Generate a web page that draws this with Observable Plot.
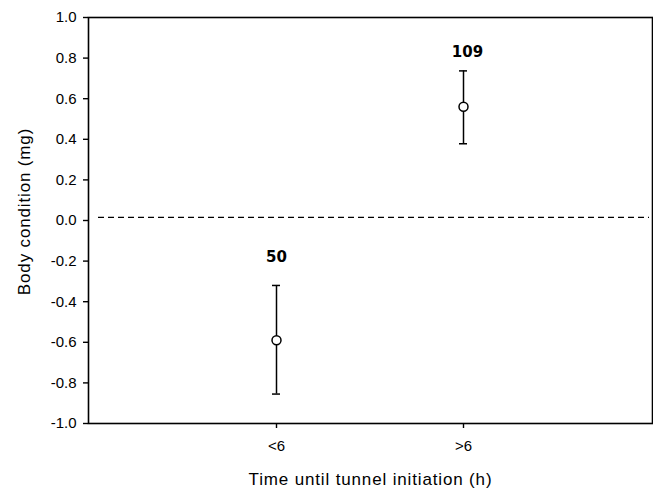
<!DOCTYPE html>
<html>
<head>
<meta charset="utf-8">
<script src="https://cdn.jsdelivr.net/npm/d3@7"></script>
<script src="https://cdn.jsdelivr.net/npm/@observablehq/plot@0.6"></script>
<style>
  html, body { margin: 0; padding: 0; background: #fff; }
  .axis-title { letter-spacing: 0.85px; }
  g[aria-label$="tick label"], g[aria-label$="tick label"] text { font-size: 15px !important; }
</style>
</head>
<body>
<div id="chart"></div>
<script>
const groups = ["<6", ">6"];
const means = [-0.59, 0.56];
const lower = [-0.855, 0.378];
const upper = [-0.32, 0.737];
const sampleSizes = [50, 109];
const refLine = 0.015;
const yTicks = [-1.0, -0.8, -0.6, -0.4, -0.2, 0.0, 0.2, 0.4, 0.6, 0.8, 1.0];
const xTitle = "Time until tunnel initiation (h)";
const yTitle = "Body condition (mg)";

const data = groups.map((g, i) => ({
  group: g, mean: means[i], lo: lower[i], hi: upper[i], n: sampleSizes[i]
}));

const chart = Plot.plot({
  width: 653,
  height: 490,
  marginLeft: 88,
  marginRight: 1,
  marginTop: 17,
  marginBottom: 67,
  style: { fontFamily: "'Liberation Sans', Arial, sans-serif", fontSize: "15px", color: "#000", background: "#fff" },
  x: { type: "band", domain: groups, paddingInner: 0.957, paddingOuter: 0.9787 },
  y: { domain: [-1, 1] },
  marks: [
    Plot.frame({ stroke: "#000", strokeWidth: 1.6 }),
    Plot.axisY({ ticks: yTicks, tickSize: 5, tickPadding: 7, tickFormat: d => d.toFixed(1), label: null, strokeWidth: 1.4 }),
    Plot.axisX({ tickSize: 5, tickPadding: 12, label: null, strokeWidth: 1.4 }),
    Plot.ruleY([refLine], { stroke: "#000", strokeWidth: 1.3, strokeDasharray: "6,4", insetLeft: 10, insetRight: 3 }),
    Plot.ruleX(data, { x: "group", y1: "lo", y2: "hi", stroke: "#000", strokeWidth: 1.5 }),
    Plot.tickY(data, { x: "group", y: "lo", stroke: "#000", strokeWidth: 1.5 }),
    Plot.tickY(data, { x: "group", y: "hi", stroke: "#000", strokeWidth: 1.5 }),
    Plot.dot(data, { x: "group", y: "mean", r: 4.5, fill: "#fff", stroke: "#000", strokeWidth: 1.5 }),
    Plot.text(data.filter(d => d.group === "<6"), { x: "group", y: "hi", text: d => String(d.n), dy: -28, fontFamily: "'DejaVu Sans', Verdana, sans-serif", fontWeight: "bold", fontSize: 15, fill: "#000" }),
    Plot.text(data.filter(d => d.group === ">6"), { x: "group", y: "hi", text: d => String(d.n), dy: -19, dx: 4, fontFamily: "'DejaVu Sans', Verdana, sans-serif", fontWeight: "bold", fontSize: 15, fill: "#000" }),
    Plot.text([xTitle], { text: d => d, frameAnchor: "bottom", textAnchor: "middle", lineAnchor: "middle", dy: 56, fontSize: 17, fill: "#000", className: "axis-title" }),
    Plot.text([yTitle], { text: d => d, frameAnchor: "left", textAnchor: "middle", lineAnchor: "middle", rotate: -90, dx: -64, dy: -9, fontSize: 17, fill: "#000", className: "axis-title" })
  ]
});
document.getElementById("chart").appendChild(chart);
</script>
</body>
</html>
